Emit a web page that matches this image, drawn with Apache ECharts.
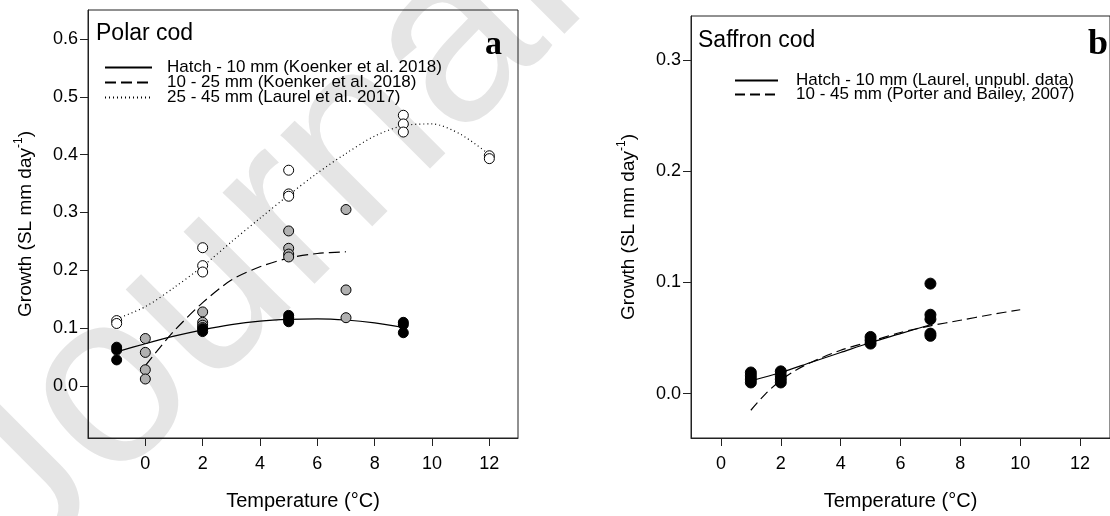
<!DOCTYPE html>
<html>
<head>
<meta charset="utf-8">
<script src="https://cdn.jsdelivr.net/npm/echarts@6/dist/echarts.min.js"></script>
<style>
html,body{margin:0;padding:0;background:#fff;}
#chart{width:1110px;height:516px;}
</style>
</head>
<body>
<div id="chart"></div>
<script>
// ---------- Panel a: Polar cod ----------
const xTicksA = [0, 2, 4, 6, 8, 10, 12];
const yTicksA = [0, 0.1, 0.2, 0.3, 0.4, 0.5, 0.6];

const blackA_x = [-1, -1, -1, 2, 2, 5, 5, 5, 5, 9, 9, 9];
const blackA_y = [0.067, 0.062, 0.045, 0.099, 0.094, 0.122, 0.118, 0.114, 0.111, 0.110, 0.106, 0.092];

const grayA_x = [0, 0, 0, 0, 2, 2, 2, 2, 5, 5, 5, 5, 7, 7, 7];
const grayA_y = [0.082, 0.058, 0.028, 0.012, 0.128, 0.110, 0.105, 0.101, 0.268, 0.238, 0.228, 0.223, 0.305, 0.166, 0.118];

const whiteA_x = [-1, -1, 2, 2, 2, 5, 5, 5, 9, 9, 9, 12, 12];
const whiteA_y = [0.113, 0.108, 0.239, 0.208, 0.197, 0.373, 0.332, 0.328, 0.468, 0.453, 0.439, 0.398, 0.393];

const hatchA_x = [-1, 0, 1, 2, 3, 4, 5, 6, 7, 8, 9];
const hatchA_y = [0.059, 0.073, 0.086, 0.097, 0.106, 0.112, 0.115, 0.116, 0.114, 0.109, 0.101];

const midA_x = [0, 0.5, 1, 2, 3, 4, 5, 6, 7];
const midA_y = [0.035, 0.066, 0.095, 0.144, 0.183, 0.206, 0.221, 0.229, 0.232];

const largeA_x = [-1, 0, 1, 2, 3, 4, 5, 6, 7, 8, 9, 10, 11, 12];
const largeA_y = [0.116, 0.137, 0.170, 0.207, 0.249, 0.29, 0.33, 0.368, 0.402, 0.432, 0.45, 0.453, 0.435, 0.40];

const legendA = ['Hatch - 10 mm (Koenker et al. 2018)', '10 - 25 mm (Koenker et al. 2018)', '25 - 45 mm (Laurel et al. 2017)'];

// ---------- Panel b: Saffron cod ----------
const xTicksB = [0, 2, 4, 6, 8, 10, 12];
const yTicksB = [0, 0.1, 0.2, 0.3];

const blackB_x = [1, 1, 1, 1, 2, 2, 2, 2, 5, 5, 5, 7, 7, 7, 7, 7];
const blackB_y = [0.019, 0.016, 0.013, 0.010, 0.020, 0.016, 0.013, 0.010, 0.051, 0.048, 0.045, 0.099, 0.071, 0.067, 0.054, 0.052];

const hatchB_x = [1, 2, 3, 4, 5, 6, 7];
const hatchB_y = [0.0115, 0.019, 0.028, 0.037, 0.046, 0.054, 0.062];

const juvB_x = [1, 1.5, 2, 2.5, 3, 4, 5, 6, 7, 8, 9, 10];
const juvB_y = [-0.015, 0.0, 0.012, 0.021, 0.028, 0.039, 0.047, 0.055, 0.061, 0.066, 0.071, 0.0755];

const legendB = ['Hatch - 10 mm (Laurel, unpubl. data)', '10 - 45 mm (Porter and Bailey, 2007)'];

const zip = (xs, ys) => xs.map((x, i) => [x, ys[i]]);

const FONT = '"Liberation Sans", Arial, sans-serif';
const AXC = '#222';

function xAxisCfg(gi, min, max, ticks) {
  return {
    type: 'value', gridIndex: gi, min: min, max: max,
    name: 'Temperature (°C)', nameLocation: 'middle', nameGap: 53,
    nameTextStyle: {fontFamily: FONT, fontSize: 20, color: '#000'},
    axisLine: {show: true, onZero: false, lineStyle: {color: AXC, width: 1}},
    axisTick: {show: true, length: 8, customValues: ticks, lineStyle: {color: AXC}},
    axisLabel: {customValues: ticks, margin: 17, fontFamily: FONT, fontSize: 18, color: '#000'},
    splitLine: {show: false}
  };
}
function yAxisCfg(gi, min, max, ticks) {
  return {
    type: 'value', gridIndex: gi, min: min, max: max,
    name: 'Growth (SL mm day{sup|-1})', nameLocation: 'middle', nameGap: 50,
    nameTextStyle: {fontFamily: FONT, fontSize: 19, color: '#000', lineHeight: 25,
      rich: {sup: {fontFamily: FONT, fontSize: 12, color: '#000', verticalAlign: 'top', lineHeight: 25}}},
    axisLine: {show: true, onZero: false, lineStyle: {color: AXC, width: 1}},
    axisTick: {show: true, length: 8, customValues: ticks, lineStyle: {color: AXC}},
    axisLabel: {customValues: ticks, margin: 10, fontFamily: FONT, fontSize: 18, color: '#000',
      formatter: v => v.toFixed(1)},
    splitLine: {show: false}
  };
}
function pts(name, gi, data, fill, size) {
  return {
    name: name, type: 'scatter', xAxisIndex: gi, yAxisIndex: gi, data: data,
    symbol: 'circle', symbolSize: size, z: 5,
    itemStyle: {color: fill, borderColor: '#000', borderWidth: 1, opacity: 1},
    emphasis: {disabled: true}
  };
}
function curve(name, gi, data, type) {
  return {
    name: name, type: 'line', xAxisIndex: gi, yAxisIndex: gi, data: data,
    symbol: 'none', smooth: 0.3, z: 3,
    itemStyle: {color: '#000'},
    lineStyle: {color: '#000', width: 1.2, type: type},
    emphasis: {disabled: true}
  };
}

const chart = echarts.init(document.getElementById('chart'), null, {renderer: 'canvas'});
chart.setOption({
  animation: false,
  backgroundColor: '#fff',
  grid: [
    {left: 88, top: 10, width: 430, height: 429, show: true, borderColor: AXC, borderWidth: 1, backgroundColor: 'transparent'},
    {left: 691, top: 16, width: 431, height: 429, show: true, borderColor: AXC, borderWidth: 1, backgroundColor: 'transparent'}
  ],
  xAxis: [xAxisCfg(0, -2, 13, xTicksA), xAxisCfg(1, -1, 13, xTicksB)],
  yAxis: [yAxisCfg(0, -0.09, 0.65, yTicksA), yAxisCfg(1, -0.04, 0.34, yTicksB)],
  title: [
    {text: 'Polar cod', left: 96, top: 22, padding: 0, textStyle: {fontFamily: FONT, fontSize: 23, fontWeight: 'normal', color: '#000'}},
    {text: 'a', left: 485, top: 28, padding: 0, textStyle: {fontFamily: '"Liberation Serif", "Times New Roman", serif', fontSize: 34, fontWeight: 'bold', color: '#000'}},
    {text: 'Saffron cod', left: 698, top: 29, padding: 0, textStyle: {fontFamily: FONT, fontSize: 23, fontWeight: 'normal', color: '#000'}},
    {text: 'b', left: 1088, top: 27, padding: 0, textStyle: {fontFamily: '"Liberation Serif", "Times New Roman", serif', fontSize: 36, fontWeight: 'bold', color: '#000'}}
  ],
  legend: [
    {data: legendA, orient: 'vertical', left: 104, top: 59, padding: 0, itemGap: -2,
      itemWidth: 47, itemHeight: 14, selectedMode: false,
      itemStyle: {opacity: 0},
      textStyle: {fontFamily: FONT, fontSize: 17, color: '#000', padding: [0, 0, 0, 10]}},
    {data: legendB, orient: 'vertical', left: 734, top: 72, padding: 0, itemGap: -3,
      itemWidth: 43, itemHeight: 12, selectedMode: false,
      itemStyle: {opacity: 0},
      textStyle: {fontFamily: FONT, fontSize: 17, color: '#000', padding: [0, 0, 0, 13]}}
  ],
  graphic: [
    {type: 'text', x: 62, y: 614, rotation: Math.PI / 4, z: -10, silent: true,
      style: {text: 'Journal Pre-proof', font: '245px "Liberation Sans", Arial, sans-serif', fill: '#e5e5e5', textVerticalAlign: 'bottom'}}
  ],
  series: [
    curve(legendA[0], 0, zip(hatchA_x, hatchA_y), 'solid'),
    curve(legendA[1], 0, zip(midA_x, midA_y), [11, 5]),
    curve(legendA[2], 0, zip(largeA_x, largeA_y), [1, 3]),
    pts('white a', 0, zip(whiteA_x, whiteA_y), '#ffffff', 10),
    pts('gray a', 0, zip(grayA_x, grayA_y), '#b0b0b0', 10),
    pts('black a', 0, zip(blackA_x, blackA_y), '#000000', 10),
    curve(legendB[0], 1, zip(hatchB_x, hatchB_y), 'solid'),
    curve(legendB[1], 1, zip(juvB_x, juvB_y), [10, 5]),
    pts('black b', 1, zip(blackB_x, blackB_y), '#000000', 11)
  ]
});
</script>
</body>
</html>
